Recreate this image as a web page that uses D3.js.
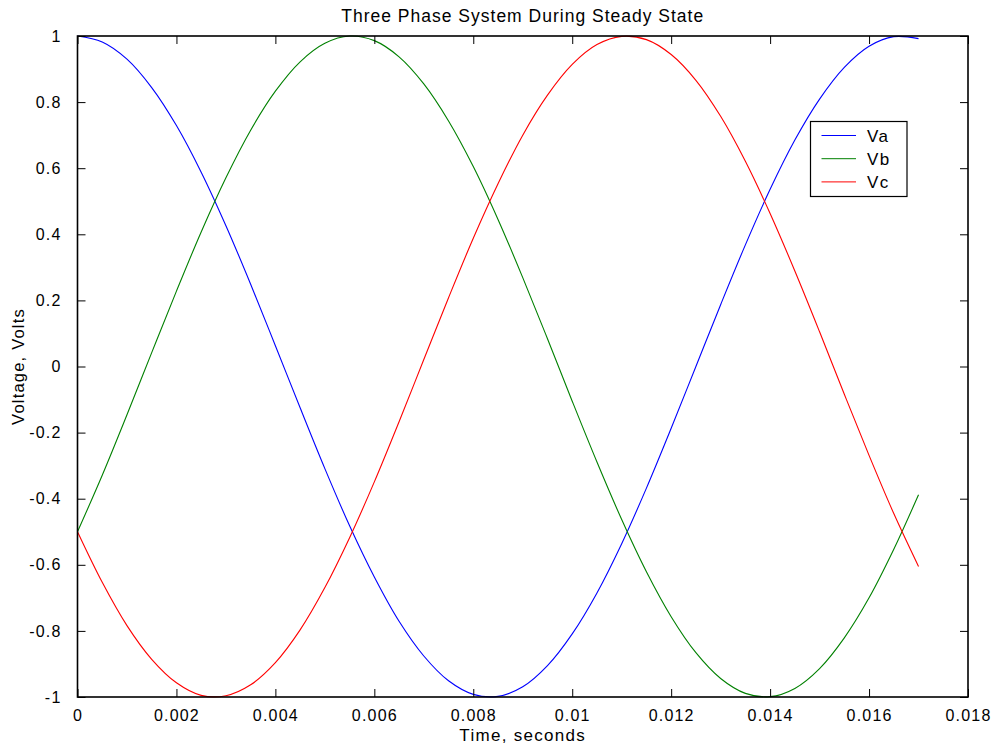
<!DOCTYPE html>
<html>
<head>
<meta charset="utf-8">
<script src="https://cdn.jsdelivr.net/npm/d3@7"></script>
<style>
  html, body { margin: 0; padding: 0; background: #fff; }
  svg { display: block; }
  text { font-family: "Liberation Sans", Arial, Helvetica, sans-serif; fill: #000; }
</style>
</head>
<body>
<svg id="chart" width="997" height="746"></svg>
<script>
// Time samples (seconds)
const time = [0,0.0005,0.001,0.0015,0.002,0.0025,0.003,0.0035,0.004,0.0045,0.005,0.0055,0.006,0.0065,0.007,0.0075,0.008,0.0085,0.009,0.0095,0.01,0.0105,0.011,0.0115,0.012,0.0125,0.013,0.0135,0.014,0.0145,0.015,0.0155,0.016,0.0165,0.017];
const Va = [1.000,0.982,0.930,0.844,0.729,0.588,0.426,0.249,0.063,-0.125,-0.309,-0.482,-0.637,-0.771,-0.876,-0.951,-0.992,-0.998,-0.969,-0.905,-0.809,-0.685,-0.536,-0.368,-0.187,0.000,0.187,0.368,0.536,0.685,0.809,0.905,0.969,0.998,0.992];
const Vb = [-0.500,-0.329,-0.146,0.042,0.228,0.407,0.571,0.715,0.833,0.922,0.978,1.000,0.986,0.937,0.855,0.743,0.605,0.445,0.269,0.084,-0.105,-0.289,-0.463,-0.621,-0.757,-0.866,-0.944,-0.989,-0.999,-0.974,-0.914,-0.821,-0.700,-0.553,-0.388];
const Vc = [-0.500,-0.653,-0.784,-0.886,-0.957,-0.995,-0.996,-0.963,-0.896,-0.797,-0.669,-0.518,-0.349,-0.167,0.021,0.208,0.388,0.553,0.700,0.821,0.914,0.974,0.999,0.989,0.944,0.866,0.757,0.621,0.463,0.289,0.105,-0.084,-0.269,-0.445,-0.605];
const seriesNames = ["Va","Vb","Vc"];
const seriesColors = ["#0000ff","#008000","#ff0000"];
const xTicks = [0,0.002,0.004,0.006,0.008,0.01,0.012,0.014,0.016,0.018];
const yTicks = [-1,-0.8,-0.6,-0.4,-0.2,0,0.2,0.4,0.6,0.8,1];
const titleText = "Three Phase System During Steady State";
const xLabel = "Time, seconds";
const yLabel = "Voltage, Volts";

const svg = d3.select("#chart");
const L = 77.5, R = 968, T = 36, B = 697;
const x = d3.scaleLinear().domain([0, 0.018]).range([L, R]);
const y = d3.scaleLinear().domain([-1, 1]).range([B, T]);

const fmt = d => d === 0 ? "0" : String(+d.toFixed(4));
const tickFont = "16px";

// Lines
const allSeries = [Va, Vb, Vc];
const line = d3.line().x((d, i) => x(time[i])).y(d => y(d)).curve(d3.curveCatmullRom);
allSeries.forEach((s, k) => {
  svg.append("path").datum(s).attr("d", line)
    .attr("fill", "none").attr("stroke", seriesColors[k]).attr("stroke-width", 1.1);
});

// Axes (ticks inward, box)
const tl = 8;
const axB = d3.axisBottom(x).tickValues(xTicks).tickSize(-tl).tickPadding(tl + 5).tickFormat(fmt);
const axT = d3.axisTop(x).tickValues(xTicks).tickSize(-tl).tickFormat("");
const axLft = d3.axisLeft(y).tickValues(yTicks).tickSize(-tl).tickPadding(tl + 8).tickFormat(fmt);
const axRgt = d3.axisRight(y).tickValues(yTicks).tickSize(-tl).tickFormat("");

function style(g) {
  g.select(".domain").remove();
  g.selectAll(".tick line").attr("stroke", "#000").attr("stroke-width", 1);
  g.selectAll("text").attr("font-size", tickFont).attr("letter-spacing", "1.2px")
    .attr("font-family", "Liberation Sans, Arial, sans-serif").attr("fill", "#000");
}
svg.append("g").attr("transform", `translate(0,${B})`).call(axB).call(style);
svg.append("g").attr("transform", `translate(0,${T})`).call(axT).call(style);
svg.append("g").attr("transform", `translate(${L},0)`).call(axLft).call(style);
svg.append("g").attr("transform", `translate(${R},0)`).call(axRgt).call(style);

svg.append("rect").attr("x", L).attr("y", T).attr("width", R - L).attr("height", B - T)
  .attr("fill", "none").attr("stroke", "#000").attr("stroke-width", 1.6);

// Title and labels
svg.append("text").attr("x", (L + R) / 2).attr("y", 22).attr("text-anchor", "middle")
  .attr("font-size", "17.5px").attr("letter-spacing", "1px").text(titleText);
svg.append("text").attr("x", (L + R) / 2).attr("y", 741).attr("text-anchor", "middle")
  .attr("font-size", "17px").attr("letter-spacing", "1.3px").text(xLabel);
svg.append("text").attr("transform", `translate(24,${(T + B) / 2}) rotate(-90)`).attr("text-anchor", "middle")
  .attr("font-size", "16.5px").attr("letter-spacing", "1.2px").text(yLabel);

// Legend
const lg = svg.append("g");
lg.append("rect").attr("x", 810.5).attr("y", 121.5).attr("width", 96.5).attr("height", 75)
  .attr("fill", "#fff").attr("stroke", "#000").attr("stroke-width", 1.2);
seriesNames.forEach((n, k) => {
  const yy = 135.5 + k * 23.2;
  lg.append("line").attr("x1", 821.5).attr("x2", 856).attr("y1", yy).attr("y2", yy)
    .attr("stroke", seriesColors[k]).attr("stroke-width", 1);
  lg.append("text").attr("x", 867).attr("y", yy).attr("dy", "0.36em")
    .attr("font-size", "17px").attr("letter-spacing", "1.3px").text(n);
});
</script>
</body>
</html>
